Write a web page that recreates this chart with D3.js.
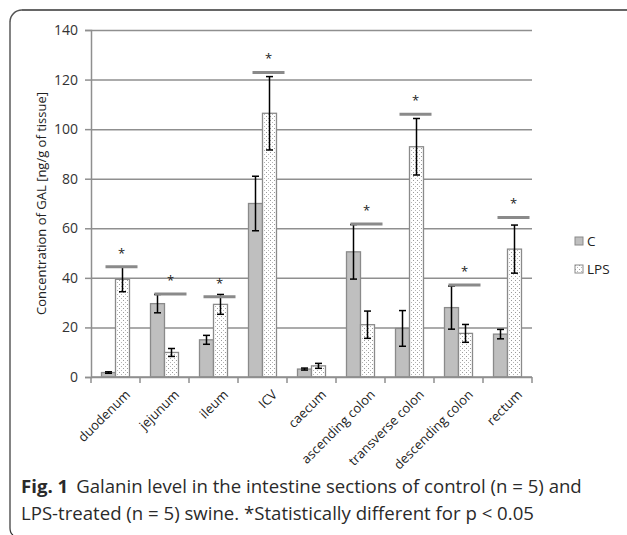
<!DOCTYPE html>
<html>
<head>
<meta charset="utf-8">
<script src="https://cdn.jsdelivr.net/npm/d3@7"></script>
<style>
  body { margin: 0; background: #fff; }
  svg text { font-family: "Open Sans", sans-serif; }
</style>
</head>
<body>
<div class="canvas"></div>
<script>
const categories = ['duodenum', 'jejunum', 'ileum', 'ICV', 'caecum',
    'ascending colon', 'transverse colon', 'descending colon', 'rectum'];
const seriesNames = ['C', 'LPS'];
const controlValues = [1.8, 29.6, 15.0, 70.0, 3.2, 50.5, 19.6, 28.0, 17.3];
const controlErrors = [0.3, 3.7, 1.8, 11.0, 0.4, 11.0, 7.2, 8.7, 1.9];
const lpsValues = [39.4, 9.9, 29.3, 106.4, 4.5, 21.1, 92.9, 17.6, 51.6];
const lpsErrors = [5.0, 1.6, 4.0, 14.8, 1.0, 5.5, 11.4, 3.6, 9.7];
// level of the significance line (null = no difference)
const sigLevels = [44.5, 33.5, 32.4, 122.9, null, 61.7, 106.0, 37.1, 64.4];
const yTicks = [0, 20, 40, 60, 80, 100, 120, 140];

const dims = { width: 627, height: 535 };
const plot = { left: 91, right: 532, top: 30, bottom: 377 };

const svg = d3.select('.canvas')
    .append('svg')
    .attr('width', dims.width)
    .attr('height', dims.height);

// dotted fill for the LPS bars
const defs = svg.append('defs');
const pat = defs.append('pattern')
    .attr('id', 'dots')
    .attr('patternUnits', 'userSpaceOnUse')
    .attr('width', 4).attr('height', 4);
pat.append('rect').attr('width', 4).attr('height', 4).attr('fill', '#fff');
pat.append('rect').attr('x', 0).attr('y', 0).attr('width', 1).attr('height', 1).attr('fill', '#9a9a9a');
pat.append('rect').attr('x', 2).attr('y', 2).attr('width', 1).attr('height', 1).attr('fill', '#b5b5b5');

// figure frame
svg.append('path')
    .attr('d', 'M627,10 H22 A12,12 0 0 0 10,22')
    .attr('fill', 'none').attr('stroke', '#555').attr('stroke-width', 1.6);
svg.append('line')
    .attr('x1', 627).attr('x2', 22).attr('y1', 10).attr('y2', 10)
    .attr('stroke', '#666').attr('stroke-width', 2.2);
svg.append('path')
    .attr('d', 'M10,22 V528 Q10,533 13,535')
    .attr('fill', 'none').attr('stroke', '#333').attr('stroke-width', 1.2);

const x0 = d3.scaleBand()
    .domain(categories)
    .range([plot.left, plot.right])
    .padding(0);

const x1 = d3.scaleBand()
    .domain(seriesNames)
    .range([0, x0.bandwidth()])
    .paddingInner(0)
    .paddingOuter(0.75);

const y = d3.scaleLinear()
    .domain([0, 140])
    .range([plot.bottom, plot.top]);

// gridlines
svg.append('g')
    .attr('class', 'grid')
    .attr('transform', `translate(${plot.left},0)`)
    .call(d3.axisLeft(y).tickValues(yTicks).tickSize(-(plot.right - plot.left)).tickFormat(''))
    .call(g => g.select('.domain').remove())
    .call(g => g.selectAll('line').attr('stroke', '#8f8f8f').attr('stroke-width', 1.5));

// y axis
const yAxis = svg.append('g')
    .attr('transform', `translate(${plot.left},0)`)
    .call(d3.axisLeft(y).tickValues(yTicks).tickSize(6).tickPadding(7));
yAxis.select('.domain').attr('stroke', '#8f8f8f').attr('stroke-width', 1.5);
yAxis.selectAll('line').attr('stroke', '#8f8f8f').attr('stroke-width', 1.5);
yAxis.selectAll('text')
    .attr('fill', '#333')
    .style('font-size', '14px');

svg.append('text')
    .attr('transform', `translate(46,${(plot.top + plot.bottom) / 2}) rotate(-90)`)
    .attr('text-anchor', 'middle')
    .attr('fill', '#222')
    .style('font-size', '13px')
    .text('Concentration of GAL [ng/g of tissue]');

// bars
const rows = categories.map((c, i) => ({
    name: c,
    series: [
        { key: 'C', value: controlValues[i], err: controlErrors[i] },
        { key: 'LPS', value: lpsValues[i], err: lpsErrors[i] }
    ],
    sig: sigLevels[i]
}));

const groups = svg.append('g').selectAll('g')
    .data(rows)
    .enter().append('g')
    .attr('transform', d => `translate(${x0(d.name)},0)`);

groups.selectAll('rect')
    .data(d => d.series)
    .enter().append('rect')
    .attr('x', d => x1(d.key))
    .attr('y', d => y(d.value))
    .attr('width', x1.bandwidth())
    .attr('height', d => y(0) - y(d.value))
    .attr('fill', d => d.key === 'C' ? '#bfbfbf' : 'url(#dots)')
    .attr('stroke', '#8a8a8a')
    .attr('stroke-width', 1.3);

// error bars
const cap = 3.5;
const errs = groups.selectAll('g.err')
    .data(d => d.series)
    .enter().append('g')
    .attr('class', 'err')
    .attr('stroke', '#000')
    .attr('stroke-width', 1.5);
errs.append('line')
    .attr('x1', d => x1(d.key) + x1.bandwidth() / 2)
    .attr('x2', d => x1(d.key) + x1.bandwidth() / 2)
    .attr('y1', d => y(d.value + d.err))
    .attr('y2', d => y(d.value - d.err));
errs.selectAll('line.cap')
    .data(d => [d.value + d.err, d.value - d.err].map(v => ({ key: d.key, v })))
    .enter().append('line')
    .attr('class', 'cap')
    .attr('x1', d => x1(d.key) + x1.bandwidth() / 2 - cap)
    .attr('x2', d => x1(d.key) + x1.bandwidth() / 2 + cap)
    .attr('y1', d => y(d.v))
    .attr('y2', d => y(d.v));

// significance lines and stars
const sigGroups = groups.filter(d => d.sig !== null);
sigGroups.append('line')
    .attr('x1', x1('LPS') + x1.bandwidth() / 2 - 17)
    .attr('x2', x1('LPS') + x1.bandwidth() / 2 + 15)
    .attr('y1', d => y(d.sig))
    .attr('y2', d => y(d.sig))
    .attr('stroke', '#8a8a8a')
    .attr('stroke-width', 3);
sigGroups.append('text')
    .attr('x', x1('LPS') + x1.bandwidth() / 2 - 1)
    .attr('y', d => y(d.sig) - 9)
    .attr('text-anchor', 'middle')
    .attr('fill', '#222')
    .style('font-size', '13px')
    .text('*');

// x axis
const xEdges = categories.map(c => x0(c)).concat([plot.right]);
svg.append('line')
    .attr('x1', plot.left).attr('x2', plot.right)
    .attr('y1', y(0)).attr('y2', y(0))
    .attr('stroke', '#8f8f8f').attr('stroke-width', 1.5);
svg.append('g').selectAll('line')
    .data(xEdges)
    .enter().append('line')
    .attr('x1', d => d).attr('x2', d => d)
    .attr('y1', y(0)).attr('y2', y(0) + 6)
    .attr('stroke', '#8f8f8f').attr('stroke-width', 1.5);

svg.append('g').selectAll('text')
    .data(categories)
    .enter().append('text')
    .attr('transform', d => `translate(${x0(d) + x0.bandwidth() / 2 + 9},${y(0) + 12}) rotate(-45)`)
    .attr('text-anchor', 'end')
    .attr('dy', '0.7em')
    .attr('fill', '#222')
    .style('font-size', '13px')
    .text(d => d);

// legend
const legend = svg.append('g')
    .attr('transform', 'translate(575,237)');
const legendItems = legend.selectAll('g')
    .data(seriesNames)
    .enter().append('g')
    .attr('transform', (d, i) => `translate(0,${i * 28})`);
legendItems.append('rect')
    .attr('width', 8).attr('height', 8)
    .attr('fill', d => d === 'C' ? '#bfbfbf' : 'url(#dots)')
    .attr('stroke', '#8a8a8a')
    .attr('stroke-width', 1);
legendItems.append('text')
    .attr('x', 12).attr('y', 9)
    .attr('fill', '#222')
    .style('font-size', '13.5px')
    .text(d => d);

// caption
const caption = svg.append('text')
    .attr('x', 21)
    .attr('y', 493)
    .attr('fill', '#2a2a2a')
    .style('font-size', '18.6px');
caption.append('tspan').attr('font-weight', 'bold').text('Fig. 1');
caption.append('tspan').attr('dx', 8).text('Galanin level in the intestine sections of control (n = 5) and');
svg.append('text')
    .attr('x', 21)
    .attr('y', 520)
    .attr('fill', '#2a2a2a')
    .style('font-size', '18.6px')
    .text('LPS-treated (n = 5) swine. *Statistically different for p < 0.05');
</script>
</body>
</html>
